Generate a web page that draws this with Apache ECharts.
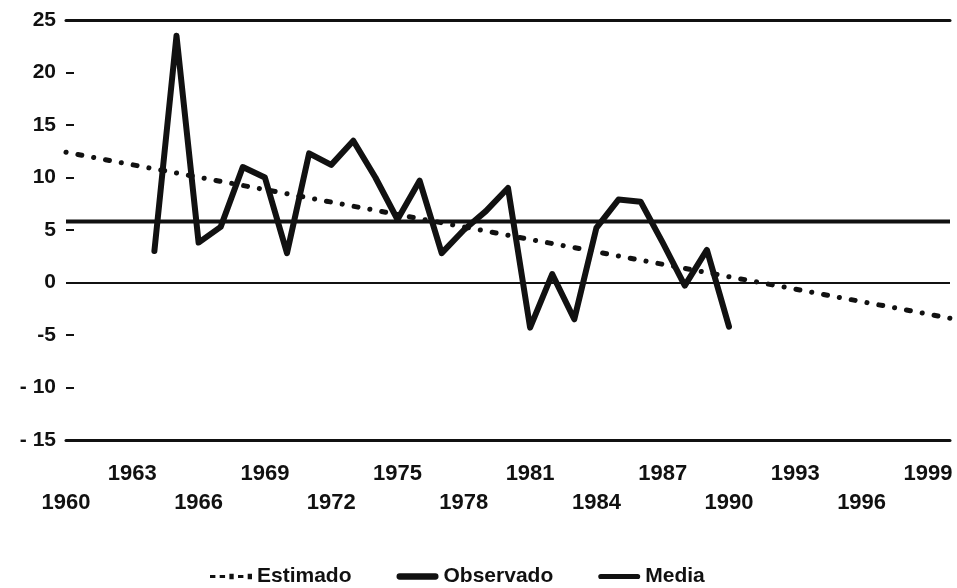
<!DOCTYPE html>
<html>
<head>
<meta charset="utf-8">
<script src="https://cdn.jsdelivr.net/npm/echarts@6/dist/echarts.min.js"></script>
<style>
  html, body { margin: 0; padding: 0; background: #fff; }
  #chart { width: 957px; height: 588px; }
</style>
</head>
<body>
<div id="chart"></div>
<script>
// valores
const years = [1964, 1965, 1966, 1967, 1968, 1969, 1970, 1971, 1972, 1973, 1974, 1975, 1976, 1977,
  1978, 1979, 1980, 1981, 1982, 1983, 1984, 1985, 1986, 1987, 1988, 1989, 1990]
const observado = [3, 23.5, 3.8, 5.3, 11, 10, 2.8, 12.3, 11.2, 13.5, 10, 6, 9.7, 2.8,
  5, 6.8, 9, -4.3, 0.8, -3.5, 5.2, 7.9, 7.7, 3.8, -0.3, 3.1, -4.2]
const estimadoYears = [1960, 2000]
const estimado = [12.4, -3.4]
const mediaYears = [1960, 2000]
const media = [5.8, 5.8]

const font = "'Liberation Sans', Arial, sans-serif"
const ink = '#111'

const chart = echarts.init(document.getElementById('chart'))
chart.setOption({
  animation: false,
  color: [ink, ink, ink],
  textStyle: { fontFamily: font, color: ink },
  grid: { left: 66, right: 7, top: 20, bottom: 148 },
  legend: {
    left: 205,
    top: 561,
    itemWidth: 42,
    itemHeight: 14,
    itemGap: 45,
    textStyle: { fontSize: 21, fontWeight: 'bold', color: ink, fontFamily: font },
    data: [
      { name: 'Estimado', icon: 'path://M0,1h5v3h-5z M9,1h5v3h-5z M18,0h4v5h-4z M26,1h5v3h-5z M35,0h4v5h-4z' },
      { name: 'Observado', icon: 'path://M3,0H37A3,3 0 0 1 37,6H3A3,3 0 0 1 3,0Z' },
      { name: 'Media', icon: 'path://M2,0H38A2.5,2.5 0 0 1 38,5H2A2.5,2.5 0 0 1 2,0Z' },
    ],
  },
  xAxis: [
    {
      type: 'value',
      min: 1960,
      max: 2000,
      interval: 3,
      axisLine: { onZero: false, lineStyle: { color: ink, width: 3 } },
      axisTick: { show: false },
      splitLine: { show: false },
      axisLabel: {
        margin: 19,
        fontSize: 22,
        fontWeight: 'bold',
        color: ink,
        lineHeight: 29,
        showMaxLabel: false,
        formatter: (v) => {
          const k = (v - 1960) / 3
          if (!Number.isInteger(k)) return ''
          return k % 2 === 1 ? String(v) : '\n' + v
        },
      },
    },
    {
      type: 'value',
      position: 'top',
      min: 1960,
      max: 2000,
      axisLine: { onZero: false, lineStyle: { color: ink, width: 3 } },
      axisTick: { show: false },
      axisLabel: { show: false },
      splitLine: { show: false },
    },
  ],
  yAxis: {
    type: 'value',
    min: -15,
    max: 25,
    interval: 5,
    axisLine: { show: false },
    axisTick: { show: true, inside: true, length: 8, lineStyle: { color: ink, width: 2 } },
    splitLine: { show: false },
    axisLabel: {
      margin: 10,
      fontSize: 21,
      fontWeight: 'bold',
      color: ink,
      formatter: (v) => {
        if (v === -5) return '-5'
        if (v < 0) return '- ' + Math.abs(v)
        return String(v)
      },
    },
  },
  series: [
    {
      name: 'Estimado',
      type: 'line',
      symbol: 'none',
      data: estimadoYears.map((y, i) => [y, estimado[i]]),
      lineStyle: { color: ink, width: 5, type: [0.1, 12, 4, 12], cap: 'round' },
      z: 3,
    },
    {
      name: 'Observado',
      type: 'line',
      symbol: 'none',
      data: years.map((y, i) => [y, observado[i]]),
      lineStyle: { color: ink, width: 6, join: 'round', cap: 'round' },
      z: 4,
    },
    {
      name: 'Media',
      type: 'line',
      symbol: 'none',
      data: mediaYears.map((y, i) => [y, media[i]]),
      lineStyle: { color: ink, width: 4 },
      markLine: {
        silent: true,
        symbol: 'none',
        label: { show: false },
        lineStyle: { color: ink, width: 2, type: 'solid' },
        data: [{ yAxis: 0 }],
      },
      z: 2,
    },
  ],
})
</script>
</body>
</html>
